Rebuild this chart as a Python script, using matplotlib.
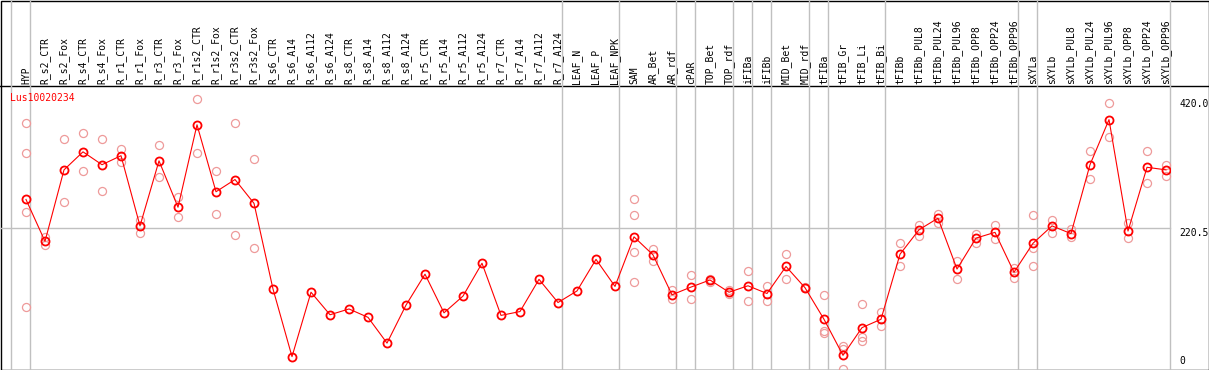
import matplotlib
matplotlib.use('Agg')
import matplotlib.pyplot as plt
import matplotlib.transforms as mtransforms
from matplotlib.patches import Rectangle

# sample names (one column each)
labels = ['HYP', 'R_s2_CTR', 'R_s2_Fox', 'R_s4_CTR', 'R_s4_Fox', 'R_r1_CTR', 'R_r1_Fox',
          'R_r3_CTR', 'R_r3_Fox', 'R_r1s2_CTR', 'R_r1s2_Fox', 'R_r3s2_CTR', 'R_r3s2_Fox',
          'R_s6_CTR', 'R_s6_A14', 'R_s6_A112', 'R_s6_A124', 'R_s8_CTR', 'R_s8_A14',
          'R_s8_A112', 'R_s8_A124', 'R_r5_CTR', 'R_r5_A14', 'R_r5_A112', 'R_r5_A124',
          'R_r7_CTR', 'R_r7_A14', 'R_r7_A112', 'R_r7_A124', 'LEAF_N', 'LEAF_P', 'LEAF_NPK',
          'SAM', 'AR_Bet', 'AR_rdf', 'cPAR', 'TOP_Bet', 'TOP_rdf', 'iFIBa', 'iFIBb',
          'MID_Bet', 'MID_rdf', 'tFIBa', 'tFIB_Gr', 'tFIB_Li', 'tFIB_Bi', 'tFIBb',
          'tFIBb_PUL8', 'tFIBb_PUL24', 'tFIBb_PUL96', 'tFIBb_OPP8', 'tFIBb_OPP24',
          'tFIBb_OPP96', 'sXYLa', 'sXYLb', 'sXYLb_PUL8', 'sXYLb_PUL24', 'sXYLb_PUL96',
          'sXYLb_OPP8', 'sXYLb_OPP24', 'sXYLb_OPP96']

# mean expression per sample
means = [264, 199, 310, 338, 318, 332, 223, 324, 252, 380, 276, 295, 258,
         125, 20, 120, 85, 94, 81, 41, 100, 148, 88, 114, 165, 84, 90, 140, 104, 122, 171, 129,
         206, 178, 116, 128, 139, 120, 130, 118, 160, 127, 78, 22, 65, 78, 179,
         217, 235, 156, 204, 213, 151, 196, 223, 211, 318, 388, 215, 314, 310]

# replicate values (empty where only the mean is shown)
reps = [[383, 336, 245, 97], [205, 194], [358, 260], [368, 308], [358, 277],
        [343, 322], [232, 212], [349, 299], [268, 237], [420, 336], [309, 242],
        [382, 209], [327, 188],
        [], [], [], [], [], [], [], [], [], [], [], [], [], [], [], [], [], [], [],
        [264, 240, 182, 136], [187, 168], [124, 109], [147, 109], [141, 136],
        [124, 117], [153, 107], [129, 106], [179, 141], [128, 126],
        [115, 60, 56], [36, 32, 1], [101, 51, 44], [90, 68], [197, 161],
        [224, 208], [241, 228], [169, 141], [210, 196], [224, 203], [158, 142],
        [240, 189, 160], [232, 212], [218, 205], [340, 296], [414, 361],
        [227, 204], [340, 289], [318, 300]]

group_breaks = [0, 1, 29, 32, 35, 36, 38, 39, 40, 42, 43, 46, 53, 54, 61]
ytick_vals = [420.0, 220.5, 0]
ytick_text = ['420.0', '220.5', '0']
gene = 'Lus10020234'
y_top = 441.0

W, H = 1209, 370
mono = 'DejaVu Sans Mono'
grey = '#c0c0c0'

fig = plt.figure(figsize=(W / 100, H / 100), dpi=100)

# background axes in pixel units, for frame and header
bg = fig.add_axes([0, 0, 1, 1])
bg.set_xlim(0, W)
bg.set_ylim(H, 0)
bg.axis('off')

ax = fig.add_axes([11 / W, 0.5 / H, 1159 / W, 284 / H])
off = 15 / 19
ax.set_xlim(-off, len(labels) - off)
ax.set_ylim(0, y_top)
ax.axis('off')

# grid
ax.axhline(220.5, xmin=-10 / 1159, xmax=1, color=grey, lw=1, clip_on=False, zorder=1)
for k in group_breaks:
    ax.axvline(k - off, ymin=0, ymax=1 + 85.5 / 284, color=grey, lw=1, clip_on=False, zorder=1)

# replicates
for i, r in enumerate(reps):
    if r:
        ax.plot([i] * len(r), r, 'o', ms=5.8, mfc='none', mec='#ee9a9a', mew=0.9,
                clip_on=False, zorder=2)

# means
x = list(range(len(labels)))
ax.plot(x, means, '-', color='red', lw=0.8, zorder=3)
ax.plot(x, means, 'o', ms=5.8, mfc='none', mec='red', mew=1.3, zorder=4)

# column labels in the header
htrans = mtransforms.blended_transform_factory(ax.transData, bg.transData)
for i, lab in enumerate(labels):
    ax.text(i, 83.5, lab, transform=htrans, rotation=90, ha='center', va='bottom',
            fontsize=7, family=mono, clip_on=False)

# value labels on the right
base = mtransforms.blended_transform_factory(ax.transAxes, ax.transData)
for v, t in zip(ytick_vals, ytick_text):
    tr = mtransforms.offset_copy(base, fig=fig, x=9, y=0 if v > 0 else 3, units='dots')
    ax.text(1, v, t, transform=tr, ha='left', va='top' if v > 0 else 'bottom',
            fontsize=7, family=mono, clip_on=False)

ax.text(10, 98, gene, transform=bg.transData, color='red', fontsize=7, family=mono,
        va='center', clip_on=False, zorder=6)

# frame and header line
bg.plot([0, W], [85.5, 85.5], color='black', lw=1)
bg.add_patch(Rectangle((0.5, 0.5), W - 1, H - 1, fill=False, ec='black', lw=1))

plt.savefig('out.png', dpi=100)
